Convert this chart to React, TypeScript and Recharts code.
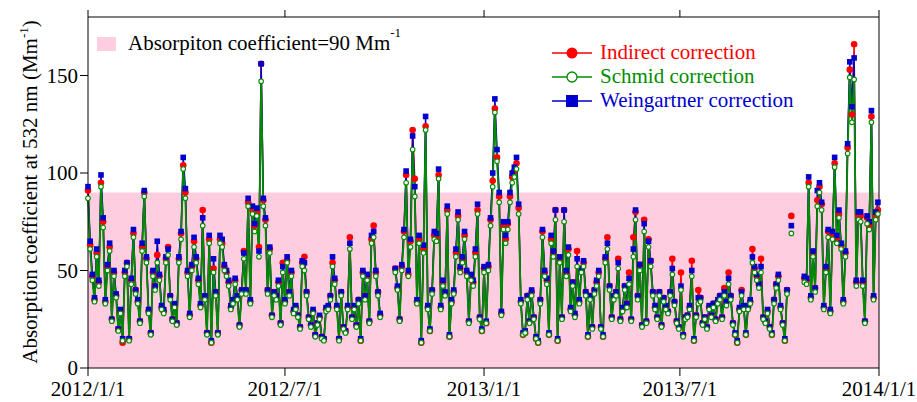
import { Legend, Line, LineChart, ReferenceArea, XAxis, YAxis } from "recharts"

// samples every second day starting 2012/1/1, null = no measurement
const schmid = [
  87, 61, 45, 34, 57, 42, 93, 72, 33, 50,
  60, 24, 47, 36, 19, 28, 14, 47, 52, 14,
  43, 67, 38, 33, 23, 60, 88, 54, 28, 17,
  47, 40, 54, 45, 30, 28, 54, 58, 35, 24,
  31, 22, 54, 66, 102, 87, 47, 26, 50, 62,
  54, 43, 31, 73, 35, 17, 64, 13, 49, 37,
  17, 64, 62, 50, 47, 42, 30, 33, 43, 35,
  21, 38, 56, 38, 83, 33, 79, 70, 78, 57,
  147, 83, 73, 38, 59, 26, 37, 35, 42, 22,
  49, 33, 54, 37, 47, 28, 30, 26, 20, 52,
  50, 37, 25, 21, 28, 16, 22, 25, 15, 14,
  29, 30, 35, 52, 43, 30, 14, 37, 20, 18,
  30, 61, 25, 30, 21, 33, 14, 47, 35, 45,
  23, 64, 67, 47, 37, 26, null, null, null, null,
  null, null, 49, 40, 24, 50, 67, 95, 47, 62,
  112, 88, 33, 64, 13, 59, 122, 30, 19, 38,
  66, 65, 97, 30, 42, 37, 79, 16, 33, 38,
  57, 76, 49, 54, 66, 47, 23, 45, 42, 57,
  79, 25, 19, 49, 23, 50, 73, 93, 131, 106,
  85, 27, 71, 64, 71, 85, 95, 98, 102, 79,
  33, 17, 18, 35, 23, 37, 25, 15, 13, 33,
  67, 47, 43, 17, 64, 57, 76, 14, 54, 25,
  75, 47, 58, 29, 42, 26, 52, 33, 49, 52,
  37, 16, 35, 20, 38, 42, 47, 20, 16, 54,
  61, 40, 25, 35, 37, 51, 24, 29, 40, 31,
  43, 24, 57, 76, 35, 50, 21, 70, 23, 62,
  52, 37, 30, 25, 37, 21, 34, 30, 28, 37,
  48, 32, 23, 20, 40, 16, 25, 26, 30, 47,
  14, 26, 33, 34, 22, 25, 20, 30, 26, 31,
  24, 33, 35, 25, 37, 32, 43, 35, 22, 17,
  13, 29, 37, 30, 17, 30, 33, 54, 49, 45,
  41, 49, 25, 23, 28, 20, 17, 33, 41, 45,
  30, 22, 14, 38, null, 69, null, null, null, null,
  null, 44, 43, 93, 35, 57, 39, 83, 90, 81,
  30, 49, 67, 28, 66, 103, 64, 77, 61, 33,
  57, 110, 149, 126, 148, 42, 76, 75, 42, 23,
  74, 71, 126, 35, 76, 79,
]

const indirect = [
  91, 63, 47, 35, 59, 44, 95, 75, 34, 52,
  62, 25, 49, 37, 20, 29, 13, 49, 54, 15,
  45, 69, 40, 34, 24, 62, 90, 56, 29, 18,
  49, 42, 58, 47, 31, 29, 56, 62, 37, 25,
  32, 23, 56, 69, 104, 90, 49, 27, 52, 65,
  56, 45, 32, 81, 36, 18, 66, 13, 51, 39,
  18, 66, 64, 52, 49, 44, 31, 34, 45, 36,
  22, 40, 60, 40, 85, 34, 81, 73, 80, 62,
  156, 86, 76, 40, 61, 27, 39, 37, 44, 23,
  54, 34, 55, 39, 49, 29, 31, 27, 21, 54,
  57, 39, 26, 22, 29, 17, 23, 26, 16, 15,
  30, 31, 37, 54, 45, 31, 15, 39, 21, 19,
  31, 67, 26, 31, 22, 35, 14, 49, 37, 47,
  24, 66, 73, 49, 39, 27, null, null, null, null,
  null, null, 51, 41, 25, 52, 70, 99, 48, 65,
  122, 97, 34, 66, 13, 61, 124, 31, 19, 40,
  68, 67, 99, 31, 44, 38, 81, 16, 34, 39,
  59, 78, 51, 56, 68, 49, 24, 47, 44, 59,
  81, 26, 19, 51, 23, 52, 76, 96, 133, 108,
  88, 28, 73, 66, 74, 88, 98, 101, 105, 82,
  34, 17, 18, 37, 24, 39, 26, 15, 13, 35,
  70, 49, 45, 17, 66, 59, 81, 14, 56, 26,
  81, 49, 61, 30, 44, 27, 60, 34, 51, 54,
  39, 16, 37, 21, 40, 44, 49, 21, 16, 56,
  67, 42, 26, 37, 39, 56, 25, 30, 42, 33,
  49, 25, 67, 80, 37, 53, 22, 76, 24, 66,
  55, 39, 31, 26, 39, 22, 36, 31, 29, 39,
  56, 34, 24, 21, 49, 17, 26, 27, 31, 55,
  14, 27, 40, 36, 23, 26, 21, 31, 27, 33,
  25, 34, 37, 26, 41, 34, 49, 37, 23, 17,
  13, 30, 40, 31, 17, 31, 34, 61, 51, 47,
  43, 56, 26, 24, 29, 21, 17, 35, 43, 47,
  31, 23, 14, 40, null, 78, null, null, null, null,
  null, 46, 45, 95, 36, 59, 41, 86, 93, 84,
  31, 51, 70, 29, 68, 105, 66, 79, 63, 34,
  59, 113, 153, 130, 166, 44, 78, 78, 44, 24,
  77, 73, 129, 36, 78, 81,
]

const weingartner = [
  93, 65, 48, 36, 61, 45, 99, 77, 35, 53,
  64, 25, 50, 38, 20, 30, 15, 50, 54, 15,
  46, 71, 40, 35, 24, 64, 91, 57, 30, 18,
  50, 42, 65, 48, 32, 30, 57, 61, 37, 25,
  33, 23, 57, 70, 108, 92, 50, 28, 53, 67,
  57, 46, 33, 77, 37, 18, 68, 14, 56, 39,
  18, 68, 66, 53, 50, 45, 32, 35, 46, 37,
  22, 40, 59, 40, 87, 35, 83, 74, 82, 60,
  156, 87, 77, 40, 62, 27, 39, 37, 45, 23,
  52, 35, 57, 39, 50, 30, 32, 27, 21, 55,
  54, 39, 26, 22, 30, 17, 23, 27, 16, 15,
  31, 32, 37, 57, 46, 32, 15, 39, 21, 19,
  32, 64, 26, 32, 22, 35, 15, 50, 37, 48,
  24, 68, 70, 50, 39, 28, null, null, null, null,
  null, null, 51, 42, 25, 53, 71, 101, 50, 66,
  119, 93, 35, 68, 14, 63, 129, 32, 20, 40,
  70, 69, 102, 32, 45, 39, 83, 17, 35, 40,
  61, 80, 52, 57, 70, 50, 24, 48, 45, 61,
  84, 26, 20, 52, 24, 53, 77, 100, 138, 112,
  90, 29, 75, 68, 75, 90, 100, 103, 108, 84,
  35, 18, 19, 37, 24, 40, 26, 16, 14, 35,
  71, 50, 46, 18, 68, 60, 81, 15, 57, 26,
  81, 50, 62, 31, 44, 28, 56, 35, 51, 55,
  39, 17, 37, 21, 40, 45, 50, 21, 17, 57,
  64, 42, 26, 37, 39, 54, 25, 31, 42, 33,
  46, 25, 61, 81, 37, 53, 22, 74, 24, 65,
  55, 39, 32, 26, 39, 22, 36, 32, 29, 39,
  51, 34, 24, 21, 42, 17, 26, 27, 32, 50,
  15, 27, 36, 36, 23, 26, 21, 32, 27, 33,
  25, 35, 37, 26, 39, 34, 46, 37, 23, 18,
  14, 31, 39, 32, 18, 32, 35, 57, 52, 48,
  43, 52, 26, 24, 30, 21, 18, 35, 43, 48,
  32, 23, 15, 40, null, 73, null, null, null, null,
  null, 47, 46, 98, 37, 60, 41, 91, 95, 85,
  32, 52, 71, 30, 70, 108, 68, 81, 64, 35,
  60, 115, 157, 134, 159, 45, 80, 80, 45, 24,
  78, 75, 132, 37, 80, 85,
]

const sampleStepDays = 2
const xTickDays = [0, 182, 366, 547, 731]
const xTickLabels = ["2012/1/1", "2012/7/1", "2013/1/1", "2013/7/1", "2014/1/1"]
const yTicks = [0, 50, 100, 150]
const threshold = 90

const data = schmid.map((s, i) => ({
  day: i * sampleStepDays,
  indirect: indirect[i],
  schmid: s,
  weingartner: weingartner[i],
}))

const RED = "#ff0000"
const GREEN = "#008c00"
const BLUE = "#0000cc"
const PINK = "#ffcde0"
const FONT = '"Liberation Serif", "Times New Roman", serif'

const redDot = (p: any) =>
  p.cy == null || p.value == null ? (
    <g key={`i${p.index}`} />
  ) : (
    <circle key={`i${p.index}`} cx={p.cx} cy={p.cy} r={3.3} fill={RED} />
  )

const blueDot = (p: any) =>
  p.cy == null || p.value == null ? (
    <g key={`w${p.index}`} />
  ) : (
    <rect key={`w${p.index}`} x={p.cx - 2.8} y={p.cy - 2.8} width={5.6} height={5.6} fill={BLUE} />
  )

const greenDot = (p: any) =>
  p.cy == null || p.value == null ? (
    <g key={`s${p.index}`} />
  ) : (
    <circle key={`s${p.index}`} cx={p.cx} cy={p.cy} r={2.3} fill="#fff" stroke={GREEN} strokeWidth={1.1} />
  )

const yLabel = () => (
  <text transform="rotate(-90)" x={-192} y={37} textAnchor="middle" fontSize={21} fill="#000" fontFamily={FONT}>
    Absorption coefficient at 532 nm (Mm
    <tspan dy={-9} fontSize={13}>-1</tspan>
    <tspan dy={9}>)</tspan>
  </text>
)

const legendBox = () => (
  <svg width={917} height={115} style={{ fontFamily: FONT }}>
    <rect x={97} y={37} width={19} height={14} fill={PINK} />
    <text x={128} y={50} fontSize={21} fill="#000">
      Absorpiton coefficient=90 Mm
      <tspan dy={-13} fontSize={13}>-1</tspan>
    </text>
    <line x1={552} x2={592} y1={53} y2={53} stroke={RED} strokeWidth={1.5} />
    <circle cx={572} cy={53} r={5.5} fill={RED} />
    <text x={600} y={59} fontSize={21} fill={RED}>Indirect correction</text>
    <line x1={552} x2={592} y1={77} y2={77} stroke={GREEN} strokeWidth={1.5} />
    <circle cx={572} cy={77} r={5} fill="#fff" stroke={GREEN} strokeWidth={1.3} />
    <text x={600} y={83} fontSize={21} fill={GREEN}>Schmid correction</text>
    <line x1={552} x2={592} y1={101} y2={101} stroke={BLUE} strokeWidth={1.5} />
    <rect x={566} y={95} width={12} height={12} fill={BLUE} />
    <text x={600} y={107} fontSize={21} fill={BLUE}>Weingartner correction</text>
  </svg>
)

export default function App() {
  const tick = { fill: "#000", fontSize: 21, fontFamily: FONT }
  const axisLine = { stroke: "#000", strokeWidth: 1 }
  return (
    <div style={{ position: "absolute", left: 0, top: 0, fontFamily: FONT }}>
      <LineChart width={917} height={402} data={data} margin={{ top: 0, right: 0, bottom: 0, left: 0 }}>
        <ReferenceArea y1={0} y2={threshold} fill={PINK} fillOpacity={1} stroke="none" />
        <XAxis
          dataKey="day"
          type="number"
          domain={[0, 731]}
          ticks={xTickDays}
          interval={0}
          tickFormatter={(v) => xTickLabels[xTickDays.indexOf(v)] ?? ""}
          height={34}
          tickSize={8}
          tickMargin={5}
          tick={tick}
          axisLine={axisLine}
          tickLine={axisLine}
        />
        <XAxis
          xAxisId="top"
          orientation="top"
          dataKey="day"
          type="number"
          domain={[0, 731]}
          ticks={xTickDays}
          interval={0}
          tickFormatter={() => ""}
          height={17}
          tickSize={7}
          axisLine={axisLine}
          tickLine={axisLine}
        />
        <YAxis
          type="number"
          domain={[0, 180]}
          ticks={yTicks}
          interval={0}
          width={88}
          tickSize={8}
          tickMargin={2}
          tick={tick}
          axisLine={axisLine}
          tickLine={axisLine}
          label={yLabel}
        />
        <YAxis
          yAxisId="right"
          orientation="right"
          type="number"
          domain={[0, 180]}
          ticks={yTicks}
          interval={0}
          width={38}
          tickSize={8}
          tickFormatter={() => ""}
          axisLine={axisLine}
          tickLine={axisLine}
        />
        <Legend
          layout="vertical"
          align="center"
          verticalAlign="middle"
          content={legendBox}
          wrapperStyle={{ position: "absolute", left: 0, top: 0, width: 917, height: 115, pointerEvents: "none" }}
        />
        <Line
          dataKey="indirect"
          name="Indirect correction"
          type="linear"
          stroke={RED}
          strokeWidth={1.5}
          dot={redDot}
          activeDot={false}
          isAnimationActive={false}
        />
        <Line
          dataKey="weingartner"
          name="Weingartner correction"
          type="linear"
          stroke={BLUE}
          strokeWidth={1.5}
          dot={blueDot}
          activeDot={false}
          isAnimationActive={false}
        />
        <Line
          dataKey="schmid"
          name="Schmid correction"
          type="linear"
          stroke={GREEN}
          strokeWidth={1.8}
          dot={greenDot}
          activeDot={false}
          isAnimationActive={false}
        />
      </LineChart>
    </div>
  )
}
